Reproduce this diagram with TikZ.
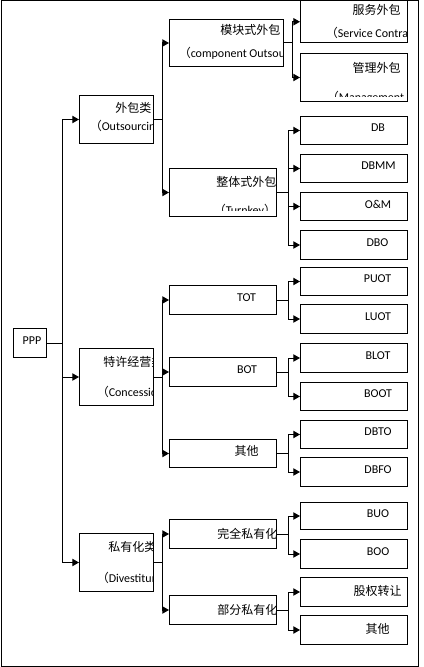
\documentclass[tikz,border=0pt]{standalone}
\usepackage{fontspec}
\setmainfont{Carlito}
\newfontfamily\cjk{Noto Sans CJK SC}
\usetikzlibrary{arrows.meta}
\begin{document}
\begin{tikzpicture}[x=0.75pt,y=-0.75pt,
  box/.style={draw,line width=0.75pt,inner sep=0pt,anchor=north west},
  txt/.style={inner sep=0pt,font=\cjk\fontsize{9pt}{10pt}\selectfont},
  lat/.style={inner sep=0pt,font=\fontsize{9pt}{10pt}\selectfont},
  par/.style={lat,anchor=west,xshift=-6.5*0.75pt},
  link/.style={line width=0.75pt},
  arr/.style={line width=0.75pt,-{Triangle[length=5pt,width=5.5pt]}}]
\useasboundingbox (0,0) rectangle (424,667);
\draw[line width=0.75pt] (1.5,0.5) rectangle (418,666);
% boxes: name, left, top, width, height
\newcommand{\bx}[5]{\node[box,minimum width=#4*0.75pt,minimum height=#5*0.75pt] (#1) at (#2,#3) {};}
\newcommand{\fp}[1]{{\cjk #1}}
\bx{ppp}{13}{328}{33}{29}
\bx{wb}{79}{95}{74}{48}
\bx{tx}{79}{348}{74}{57}
\bx{sy}{79}{533}{74}{58}
\bx{mk}{169}{19}{114}{47}
\bx{zt}{169}{168}{107}{48}
\bx{tot}{169}{285}{107}{29}
\bx{bot}{169}{357}{107}{29}
\bx{qt}{169}{439}{107}{28}
\bx{wq}{169}{519}{107}{29}
\bx{bf}{169}{595}{107}{29}
\bx{fw}{300}{0.5}{107}{41.5}
\bx{gl}{300}{53}{107}{48}
\bx{db}{300}{116}{107}{28}
\bx{dbmm}{300}{154}{107}{28}
\bx{om}{300}{192}{107}{28}
\bx{dbo}{300}{230}{107}{29}
\bx{puot}{300}{267}{107}{28}
\bx{luot}{300}{304}{107}{29}
\bx{blot}{300}{343}{107}{29}
\bx{boot}{300}{382}{107}{28}
\bx{dbto}{300}{420}{107}{28}
\bx{dbfo}{300}{457}{107}{29}
\bx{buo}{300}{502}{107}{27}
\bx{boo}{300}{539}{107}{29}
\bx{gq}{300}{577}{107}{29}
\bx{qt2}{300}{615}{107}{29}
% branch coordinates
\coordinate (b0) at (62,0);
\coordinate (b1) at (162,0);
\coordinate (c1) at (292,0);
\coordinate (c2) at (288,0);
% connectors
\draw[link] (ppp.east) -- (ppp.east -| b0);
\foreach \c in {wb,tx,sy} \draw[arr] (ppp.east -| b0) |- (\c.west);
\draw[link] (wb.east) -- (wb.east -| b1);
\foreach \c in {mk,zt} \draw[arr] (wb.east -| b1) |- (\c.west);
\draw[link] (tx.east) -- (tx.east -| b1);
\foreach \c in {tot,bot,qt} \draw[arr] (tx.east -| b1) |- (\c.west);
\draw[link] (sy.east) -- (sy.east -| b1);
\foreach \c in {wq,bf} \draw[arr] (sy.east -| b1) |- (\c.west);
\draw[link] (mk.east) -- (mk.east -| c1);
\foreach \c in {fw,gl} \draw[arr] (mk.east -| c1) |- (\c.west);
\draw[link] (zt.east) -- (zt.east -| c2);
\foreach \c in {db,dbmm,om,dbo} \draw[arr] (zt.east -| c2) |- (\c.west);
\draw[link] (tot.east) -- (tot.east -| c2);
\foreach \c in {puot,luot} \draw[arr] (tot.east -| c2) |- (\c.west);
\draw[link] (bot.east) -- (bot.east -| c2);
\foreach \c in {blot,boot} \draw[arr] (bot.east -| c2) |- (\c.west);
\draw[link] (qt.east) -- (qt.east -| c2);
\foreach \c in {dbto,dbfo} \draw[arr] (qt.east -| c2) |- (\c.west);
\draw[link] (wq.east) -- (wq.east -| c2);
\foreach \c in {buo,boo} \draw[arr] (wq.east -| c2) |- (\c.west);
\draw[link] (bf.east) -- (bf.east -| c2);
\foreach \c in {gq,qt2} \draw[arr] (bf.east -| c2) |- (\c.west);
% clipped texts: clip to box interior
\newcommand{\cliptext}[5]{%
\begin{scope}
\clip (#1,#2) rectangle (#3,#4);
#5
\end{scope}}
\cliptext{300}{1}{406}{41}{
\node[txt,anchor=east] (t-fw1) at (401,10) {服务外包};
\node[par] (t-fw2) at (332,33) {\fp{（}Service Contract\fp{）}};}
\cliptext{300}{53}{406}{96}{
\node[txt,anchor=east] (t-gl1) at (401,68) {管理外包};
\node[par] (t-gl2) at (333,97.5) {\fp{（}Management Contract\fp{）}};}
\cliptext{169}{19}{282}{65}{
\node[txt,anchor=west] (t-mk1) at (220,30) {模块式外包};
\node[par] (t-mk2) at (185,53) {\fp{（}component Outsourcing\fp{）}};}
\cliptext{79}{95}{152}{142}{
\node[txt,anchor=west] (t-wb1) at (115,108) {外包类};
\node[par] (t-wb2) at (96,126) {\fp{（}Outsourcing\fp{）}};}
\cliptext{169}{168}{275.5}{210}{
\node[txt,anchor=west] (t-zt1) at (216,182) {整体式外包};
\node[par] (t-zt2) at (220,210.5) {\fp{（}Turnkey\fp{）}};}
\cliptext{79}{348}{152.5}{404}{
\node[txt,anchor=west] (t-tx1) at (103,362) {特许经营类};
\node[par] (t-tx2) at (103,392) {\fp{（}Concession\fp{）}};}
\cliptext{79}{533}{152.5}{590}{
\node[txt,anchor=west] (t-sy1) at (108,547) {私有化类};
\node[par] (t-sy2) at (103,578) {\fp{（}Divestiture\fp{）}};}
\cliptext{169}{519}{275.5}{547}{
\node[txt,anchor=west] (t-wq) at (217,534) {完全私有化};}
\cliptext{169}{595}{275.5}{623}{
\node[txt,anchor=west] (t-bf) at (217,610) {部分私有化};}
% plain texts
\node[lat] (t-ppp) at (32,341) {PPP};
\node[lat] (t-db) at (378,128) {DB};
\node[lat] (t-dbmm) at (378.5,166) {DBMM};
\node[lat] (t-om) at (378,204) {O\&M};
\node[lat] (t-dbo) at (377.5,243) {DBO};
\node[lat] (t-puot) at (377.5,279) {PUOT};
\node[lat] (t-luot) at (378,317) {LUOT};
\node[lat] (t-tot) at (246.5,298) {TOT};
\node[lat] (t-bot) at (247,370) {BOT};
\node[lat] (t-blot) at (378,356) {BLOT};
\node[lat] (t-boot) at (378,394) {BOOT};
\node[lat] (t-dbto) at (378,432) {DBTO};
\node[txt] (t-qt) at (246.5,451) {其他};
\node[lat] (t-dbfo) at (378,470) {DBFO};
\node[lat] (t-buo) at (378,514) {BUO};
\node[lat] (t-boo) at (378,552) {BOO};
\node[txt] (t-gq) at (377.5,591) {股权转让};
\node[txt] (t-qt2) at (377.5,629) {其他};
\end{tikzpicture}
\end{document}
